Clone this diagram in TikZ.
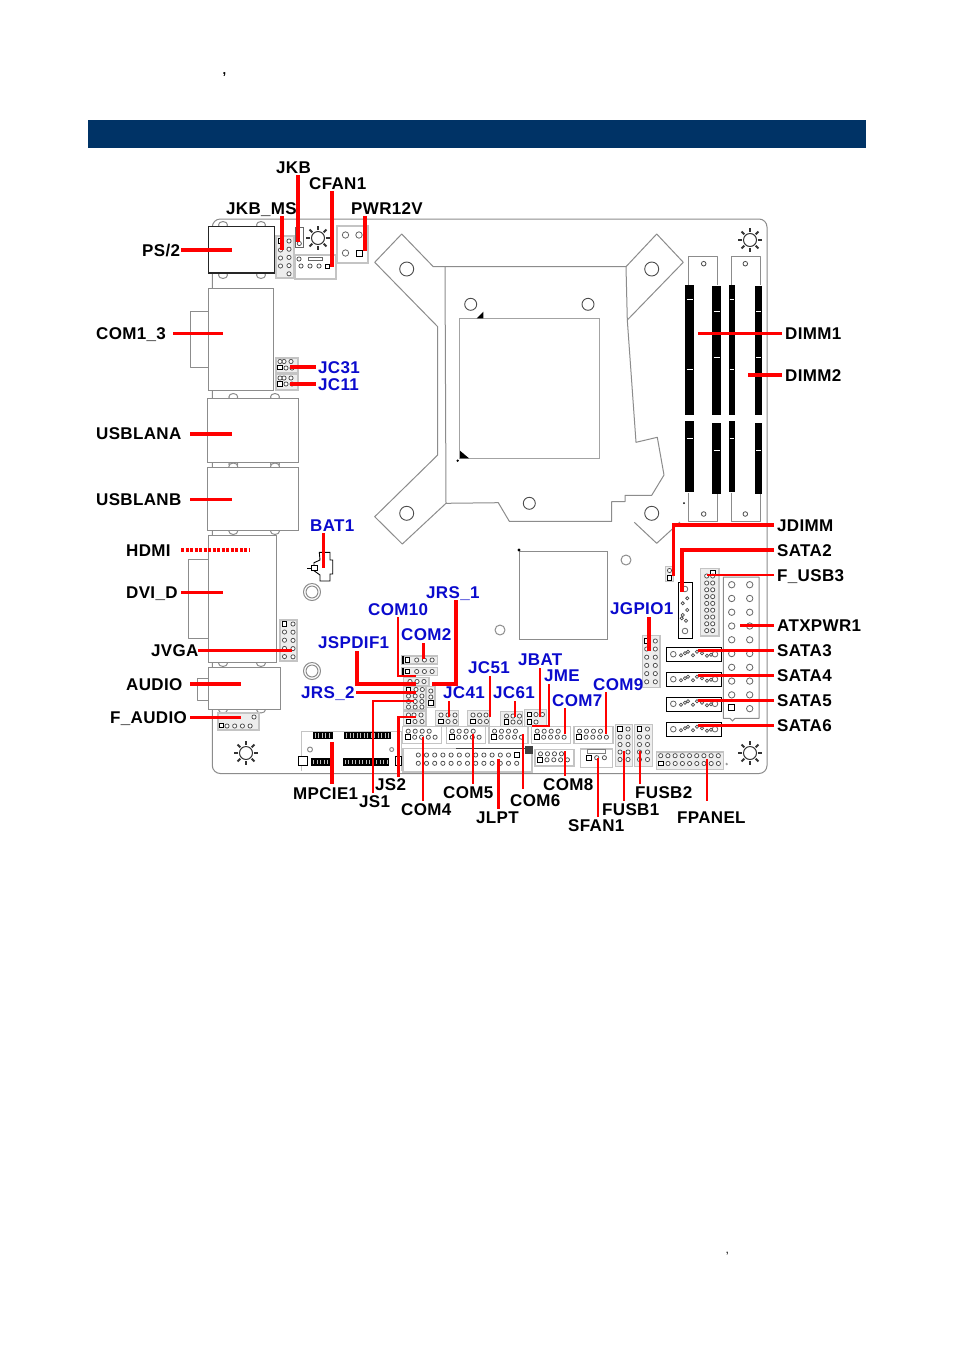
\documentclass[tikz,border=0pt]{standalone}
\usepackage{fontspec}
\setmainfont[LetterSpace=2]{Liberation Sans}
\definecolor{barblue}{HTML}{003366}
\definecolor{lblblue}{HTML}{0A0ACD}
\definecolor{leadred}{HTML}{FF0000}
\definecolor{pcb}{HTML}{8C8C8C}
\definecolor{hdrgrey}{HTML}{C4C4C4}
\definecolor{hdrfill}{HTML}{EDEDED}
\tikzset{
 lbl/.style={anchor=base west,inner sep=0pt,font=\fontsize{17}{17}\selectfont\bfseries,text=black},
 lblb/.style={lbl,text=lblblue},
 lead/.style={draw=leadred,line width=3.4pt,line cap=butt,line join=miter},
 leadthin/.style={lead,line width=2.8pt},
 outl/.style={draw=pcb,line width=1pt,line join=round},
 conn/.style={draw=pcb,line width=1pt,fill=white},
 hbox/.style={draw=hdrgrey,line width=1.3pt,fill=hdrfill},
 hboxw/.style={draw=hdrgrey,line width=1.3pt,fill=white},
 pin/.style={draw=black!70,line width=0.75pt,fill=white},
 bigpin/.style={draw=black!60,line width=0.8pt,fill=white},
 pinsq/.style={draw=black,line width=0.9pt,fill=white},
}
\newcommand\lab[4]{\node[lbl] (#1) at (#2,#3+6) {#4};}
\newcommand\labb[4]{\node[lblb] (#1) at (#2,#3+6) {#4};}
\newcommand\ld[3]{\coordinate (#1s) at (#2); \coordinate (#1e) at (#3); \draw[lead] (#1s) -- (#1e);}
\newcommand\ldt[3]{\coordinate (#1s) at (#2); \coordinate (#1e) at (#3); \draw[leadthin] (#1s) -- (#1e);}
\newcommand\ldb[4]{\coordinate (#1s) at (#2); \coordinate (#1m) at (#3); \coordinate (#1e) at (#4); \draw[lead] (#1s) -- (#1m) -- (#1e);}
\newcommand\ldbt[4]{\coordinate (#1s) at (#2); \coordinate (#1m) at (#3); \coordinate (#1e) at (#4); \draw[leadthin] (#1s) -- (#1m) -- (#1e);}
% x0,y0,dx,dy,nx,ny
\newcommand\pins[6]{\foreach \ii in {1,...,#5}{\foreach \jj in {1,...,#6}{\draw[pin] ({#1+(\ii-1)*#3},{#2+(\jj-1)*#4}) circle[radius=2.1pt];}}}
\newcommand\sqp[2]{\draw[pinsq] ({#1-2.3},{#2-2.3}) rectangle ({#1+2.3},{#2+2.3});}
\newcommand\hdr[4]{\draw[hbox] (#1,#2) rectangle (#3,#4);}
\newcommand\hdrw[4]{\draw[hboxw] (#1,#2) rectangle (#3,#4);}
\newcommand\screwstar[2]{\draw[draw=black!80,line width=1pt,fill=white] (#1,#2) circle[radius=6.5pt];
 \foreach \aa in {0,45,...,315}{\draw[black!80,line width=1.8pt] ({#1+8*cos(\aa)},{#2+8*sin(\aa)}) -- ({#1+12*cos(\aa)},{#2+12*sin(\aa)});}}
\newcommand\sata[1]{\draw[draw=black,line width=1.1pt,fill=white] (666.7,#1) rectangle (721.7,{#1+14});
 \draw[bigpin] (673.3,{#1+6.5}) circle[radius=2.8pt]; \draw[bigpin] (715,{#1+6.5}) circle[radius=2.8pt];
 \foreach \xa/\ya in {681/7.5,685/5.5,688/4,693/7.5,697/4,702/5.5,707/8,711/7}{\draw[pin] (\xa,{#1+\ya}) circle[radius=1.6pt];}}
\newcommand\dimmbar[6]{\fill[black] (#1,#3) rectangle (#2,#4); \fill[black] (#1,#5) rectangle (#2,#6);}
\newcommand\stripes[4]{\fill[black] (#1,#2) rectangle (#3,#4);
 \foreach \xs in {2.5,6,...,46}{\pgfmathparse{#1+\xs<#3-1?1:0}\ifnum\pgfmathresult=1\draw[white!75!black,line width=0.7pt] ({#1+\xs},{#2+1.5}) -- ({#1+\xs},{#4-1.5});\fi}}
\newcommand\bump[2]{\draw[outl,fill=white] (#1,#2) circle[x radius=4.5pt,y radius=3.5pt];}
\newcommand\comh[2]{\hdrw{#1}{#2}{#1+39}{#2+16.6}\pins{#1+5.5}{#2+4.5}{7}{0}{4}{1}\sqp{#1+5}{#2+10.5}\pins{#1+12}{#2+10.5}{6.8}{0}{4}{1}}
\begin{document}
\begin{tikzpicture}[x=1pt,y=-1pt]
\useasboundingbox (0,0) rectangle (954,1350);
\fill[white] (0,0) rectangle (954,1350);
\node[lbl,font=\fontsize{13}{13}\selectfont\bfseries] (cmA) at (222.5,74) {,};
\node[lbl,font=\fontsize{12}{12}\selectfont] (cmB) at (725.5,1253) {,};
\fill[barblue] (88,120) rectangle (866,148);
% board
\draw[outl,rounded corners=8pt] (212.3,219) -- (767,219) -- (767,773.5) -- (212.3,773.5) -- cycle;
% rear IO
\foreach \bx in {223,261}{\bump{\bx}{225}\bump{\bx}{275}}
\draw[draw=black!85,line width=1.2pt,fill=white] (208.5,226.5) rectangle (274.5,273);
\draw[outl,fill=white] (190,311) rectangle (208,367);
\draw[conn] (208,288) rectangle (273,390);
\foreach \bx in {233.3,275}{\bump{\bx}{397}\bump{\bx}{464}\bump{\bx}{466.5}\bump{\bx}{531}}
\draw[conn] (207.3,398.3) rectangle (298.3,462.5);
\draw[conn] (207.3,467.3) rectangle (298.3,530);
\draw[outl,fill=white] (188,559) rectangle (208,638);
\foreach \bx in {223,261}{\bump{\bx}{663}\bump{\bx}{709.5}}
\draw[conn] (208,535) rectangle (276.5,662);
\draw[outl,fill=white] (197,678) rectangle (208,700);
\draw[conn] (208,667) rectangle (280,709);
% F_AUDIO, JVGA
\hdr{218}{713}{259}{730}
\pins{227}{726}{7.7}{0}{4}{1}\pins{254}{717}{0}{0}{1}{1}\sqp{221.5}{725.5}
\hdr{280}{620}{297}{661}
\pins{293}{624}{0}{8.2}{1}{5}\pins{284.5}{632}{0}{8.2}{1}{4}\sqp{284.5}{624}
% JKB_MS, JKB
\hdr{276}{236}{294}{278}
\pins{280.5}{250}{0}{8}{1}{3}\pins{289}{241}{0}{8.2}{1}{5}\sqp{280.5}{241}
\draw[draw=black!60,line width=0.8pt,fill=white] (295.5,227) rectangle (303,247);
\pins{299.3}{243.5}{0}{0}{1}{1}
\screwstar{318}{238}
% CFAN1
\hdrw{295}{255}{336}{279}
\draw[draw=black!60,line width=0.6pt] (308,257) rectangle (322,260.5);
\pins{299}{259}{0}{0}{1}{1}
\pins{301}{266}{9}{0}{3}{1}\sqp{327.5}{266.5}
% PWR12V
\hdrw{337}{226}{368}{263}
\draw[bigpin] (345.5,235) circle[radius=3.2pt];\draw[bigpin] (359,235) circle[radius=3.2pt];
\draw[bigpin] (345.5,253) circle[radius=3.2pt];
\draw[pinsq] (356,250) rectangle (362.5,256.5);
% JC31, JC11
\hdr{276}{358}{298}{373}\hdr{276}{374.5}{298}{390}
\pins{284}{361.5}{7}{0}{2}{1}\pins{280}{361.5}{0}{0}{1}{1}\pins{286}{368}{6}{0}{2}{1}\sqp{280}{367.5}
\pins{284}{378}{7}{0}{2}{1}\pins{280}{378}{0}{0}{1}{1}\pins{286}{384}{6}{0}{2}{1}\sqp{280}{384}
% standoffs
\foreach \sy in {592,671}{\draw[outl] (312,\sy) circle[radius=8.5pt]; \draw[outl] (312,\sy) circle[radius=6pt];}
% BAT1
\draw[draw=black,line width=0.9pt,fill=white] (319.3,552.3) -- (330,552.3) -- (330,560) -- (332.7,560) -- (332.7,574) -- (330,574) -- (330,581) -- (320,581) -- (320,575) -- (314,570.7) -- (314,562.7) -- (320,560) -- cycle;
\draw[draw=black,line width=0.8pt,fill=white] (311.7,565) rectangle (317.7,570.7);
\draw[draw=black,line width=0.8pt] (307.3,568) -- (311.7,568);
% CPU retention
\draw[outl] (444.7,266.7) -- (433.3,266.7) -- (401.7,234) -- (374.7,262.3) -- (437.7,326.7) -- (437.7,455) -- (374.7,516.7) -- (402.3,544) -- (446,503.3) -- (498.3,502.7) -- (509.3,521.3) -- (611.7,521.3) -- (611.7,501.7) -- (625,501.7) -- (625,495.3) -- (651.7,495.3) -- (664,475) -- (657.3,437.3) -- (636,442.3) -- (627.3,320) -- (683.3,262.3) -- (656.7,234) -- (626,266.7) -- cycle;
\draw[outl] (445,266.7) -- (446,503.3);
\draw[outl] (626,266.7) -- (627.3,320);
\draw[outl] (634.3,522.3) -- (656.7,543.3) -- (680,522);
\draw[draw=pcb!80,line width=1.2pt] (459.3,318.3) rectangle (599.3,458.3);
\fill[black] (476.7,318.3) -- (483.3,311.7) -- (483.3,318.3) -- cycle;
\fill[black] (460,458.3) -- (460,450.7) -- (469,458.3) -- cycle;
\fill[black] (457.7,460.7) circle[radius=1.3pt];
\foreach \hx/\hy in {406.7/269,651.7/269,406.7/513.3,651.7/513.3}{\draw[draw=black!70,line width=0.9pt] (\hx,\hy) circle[radius=7pt];}
\foreach \hx/\hy in {470.7/304.3,588/304.3,529.3/503.3}{\draw[draw=black!70,line width=0.9pt] (\hx,\hy) circle[radius=6pt];}
% chipset
\draw[draw=pcb,line width=1pt] (519,551) rectangle (607,639);
\fill[black] (519,550) circle[radius=1.6pt];
\draw[outl] (500,630) circle[radius=5pt];
\draw[outl] (626,560) circle[radius=5pt];
% DIMM slots
\foreach \xa/\xb/\hx in {688.3/717.7/703.7,731.7/760.7/745.3}{
 \draw[outl] (\xa,285) -- (\xa,256.7) -- (\xb,256.7) -- (\xb,285);
 \draw[outl] (\xa,492.7) -- (\xa,521) -- (\xb,521) -- (\xb,492.7);
 \draw[draw=black!70,line width=0.8pt] (\hx,263.7) circle[radius=2.3pt];
 \draw[draw=black!70,line width=0.8pt] (\hx,514) circle[radius=2.3pt];}
\dimmbar{685.3}{694}{285}{414.7}{421.3}{492.3}
\dimmbar{712}{720.7}{285.7}{414.7}{422.7}{493.7}
\dimmbar{728.7}{735}{285}{414.7}{421.3}{492.3}
\dimmbar{755.3}{761.7}{285.7}{414.7}{422.7}{493.7}
\foreach \yy in {299.3,369.7,438.3}{\draw[white,line width=0.8pt] (686.5,\yy) -- (692.8,\yy); \draw[white,line width=0.8pt] (729.5,\yy) -- (734.2,\yy);}
\foreach \yy in {311.7,357.3,450.7}{\draw[white,line width=0.8pt] (713.5,\yy) -- (719.5,\yy); \draw[white,line width=0.8pt] (756.2,\yy) -- (760.8,\yy);}
\fill[black] (684,503) circle[radius=1pt];
% corner holes
\screwstar{750}{240}\screwstar{246}{753}\screwstar{750}{753}
% MPCIE1
\draw[draw=hdrgrey,line width=1pt] (301,771) -- (301,731) -- (401,731) -- (401,771);
\stripes{312.7}{731.7}{332.7}{739}\stripes{344}{731.7}{390.7}{739}
\stripes{311}{758.3}{330.7}{765.7}\stripes{342.7}{758.3}{389.3}{765.7}
\draw[draw=black,line width=1pt,fill=white] (298.3,756) rectangle (307,765.3);
\draw[draw=black,line width=0.8pt,fill=white] (395.7,756) rectangle (401.7,765.3);
\draw[outl] (310,749.5) circle[radius=2.5pt]; \draw[outl] (391.7,749.5) circle[radius=2pt];
% centre headers
\hdr{401.7}{656}{437.7}{664}\sqp{407.5}{660}\pins{416.7}{660}{7.7}{0}{3}{1}
\fill[black] (402,656) rectangle (403.5,664);
\hdr{401.7}{667.3}{437.7}{675.7}\sqp{407.5}{671.5}\pins{416.7}{671.5}{7.7}{0}{3}{1}
\fill[black] (402,667.5) rectangle (403.5,675.5);
\hdr{403.3}{677.7}{429}{685.3}\pins{410}{681.5}{7}{0}{3}{1}
\hdr{403.3}{686}{426}{710}\pins{416}{689.5}{6.3}{0}{2}{1}\sqp{408.5}{689.5}\pins{408.5}{696}{6.7}{5.5}{3}{3}
\hdr{426.7}{686.7}{435}{707.3}\pins{430.8}{691}{0}{6}{1}{2}\sqp{430.8}{703}
\hdr{403.3}{711}{426}{726}\pins{414}{715}{7}{0}{2}{1}\pins{408.5}{715}{0}{0}{1}{1}\sqp{408.5}{721.5}\pins{415}{721.5}{7}{0}{2}{1}
\hdr{435.7}{710.7}{458.3}{726}\pins{441}{715}{7}{0}{3}{1}\sqp{441}{721.5}\pins{448}{721.5}{7}{0}{2}{1}
\hdr{467.7}{710.7}{489.3}{726}\pins{473}{715}{6.5}{0}{3}{1}\sqp{473}{721.5}\pins{480}{721.5}{6.5}{0}{2}{1}
\hdr{500.7}{711.3}{522.7}{726.7}\pins{506.5}{716}{6.5}{0}{3}{1}\sqp{506.5}{722}\pins{513}{722}{6.5}{0}{2}{1}
\hdr{524.3}{709.3}{546.7}{726.7}\sqp{529.5}{714.5}\pins{536}{714.5}{6.5}{0}{2}{1}\sqp{529.5}{722}\pins{536}{722}{6.5}{0}{1}{1}
\comh{402.7}{726.7}\comh{446.7}{726.7}\comh{489}{726.7}\comh{531.7}{726.7}\comh{574}{726.7}
\draw[hboxw,line width=1.6pt] (402.7,748.3) rectangle (531.7,771.7);
\fill[black!75] (456,747.5) rectangle (525,749);\fill[black!75] (525,746) rectangle (533,754);
\pins{418.3}{755}{8.2}{0}{12}{1}\sqp{516.7}{755}\pins{418.3}{763.3}{8.2}{0}{13}{1}
\comh{535}{749.3}
\hdrw{580.7}{749}{612.7}{767.7}\draw[draw=black!50,line width=0.6pt] (587,749) rectangle (605,753.5);
\sqp{589}{757.7}\pins{596.7}{757.7}{7.7}{0}{2}{1}
\hdr{615.7}{724.3}{632.3}{766.7}\sqp{620}{729}\pins{628}{729}{0}{0}{1}{1}\pins{620}{737}{8}{7.5}{2}{4}
\hdr{634.3}{724.3}{652.7}{766.7}\sqp{639.5}{729}\pins{647.5}{729}{0}{0}{1}{1}\pins{639.5}{737}{8}{7.5}{2}{4}
\hdr{656.7}{752}{723.3}{769.3}\pins{660.7}{755.7}{7.2}{0}{9}{1}\sqp{660.7}{763.5}\pins{668}{763.5}{7.2}{0}{8}{1}
\fill[black!40] (726.7,764) circle[radius=1.3pt];
\hdr{642.3}{635.7}{660}{687.3}\sqp{646.7}{641}\pins{655.3}{641}{0}{0}{1}{1}\pins{646.7}{649}{8.6}{8.2}{2}{5}
% right side
\hdr{665.7}{566.7}{673.3}{581.7}\pins{669.5}{570.5}{0}{0}{1}{1}\sqp{669.5}{578}
\draw[draw=black,line width=1.1pt,fill=white] (678.3,582.3) rectangle (692.3,638.3);
\draw[bigpin] (685,589) circle[radius=2.8pt];\draw[bigpin] (685,631) circle[radius=2.8pt];
\foreach \xa/\ya in {687.3/598.3,682.7/603.3,687.3/610,682.7/615,681.7/618.3,686/620.7}{\draw[pin] (\xa,\ya) circle[radius=1.6pt];}
\hdr{700.7}{568.3}{719}{636}\sqp{712.7}{573}\pins{706.7}{576}{6}{6.8}{2}{1}\pins{706.7}{583}{6}{6.8}{2}{8}
\draw[outl] (723.3,577) -- (723.3,718.3) -- (730,718.3) -- (732.5,721) -- (735,718.3) -- (759,718.3) -- (759,577) -- cycle;
\foreach \jy in {0,...,9}{\draw[bigpin] (749.7,{584.7+\jy*13.77}) circle[radius=3.2pt];}
\foreach \jy in {0,...,8}{\draw[bigpin] (731.7,{584.7+\jy*13.77}) circle[radius=3.2pt];}
\draw[pinsq] (728.5,704.2) rectangle (734.9,710.6);
\sata{647.7}\sata{672.7}\sata{697.3}\sata{722.7}
% leaders
\ld{a1}{181,250}{232,250}
\ld{a2}{173,333.5}{223,333.5}
\ld{a3}{298,175}{298,242}
\ld{a4}{282,216}{282,250}
\ld{a5}{332,191}{332,267}
\ld{a6}{365,216}{365,251}
\ld{a7}{290,367}{316,367}
\ld{a8}{290,384}{316,384}
\ld{a9}{190,434}{232,434}
\ld{a10}{190,499.5}{232,499.5}
\coordinate (hdmis) at (181,550); \coordinate (hdmie) at (249,550);
\draw[lead,dash pattern=on 3pt off 1.5pt] (hdmis) -- (hdmie);
\ld{a11}{181,592.5}{223,592.5}
\ld{a12}{198,650.5}{292,650.5}
\ld{a13}{190,684}{241,684}
\ld{a14}{190,717.5}{241,717.5}
\ldt{a15}{323.5,533}{323.5,568}
\ld{a16}{332,742}{332,784}
\ldbt{a17}{373,793}{373,701}{414,701}
\ldbt{a18}{398.5,777}{398.5,717}{416,717}
\ldbt{a19}{398,617}{398,676}{416,676}
\ldb{a20}{357,651}{357,684}{416,684}
\ld{a21}{356,692.5}{416,692.5}
\ldt{a22}{423,737}{423,801}
\ldt{a23}{423.5,643}{423.5,659}
\ldb{a24}{456,600}{456,684}{432,684}
\ldt{a25}{449,701}{449,717}
\ldt{a26}{490,676}{490,717}
\ldt{a27}{515,701}{515,717}
\ldt{a28}{540,668}{540,717}
\ldbt{a29}{549,684}{549,726}{532,726}
\ldt{a30}{565,708}{565,734}
\ldt{a31}{606,692}{606,734}
\ldt{a32}{473,734}{473,784}
\ldt{a33}{523,734}{523,789}
\ldt{a34}{565,751}{565,776}
\ldt{a35}{498.5,759}{498.5,809}
\ldt{a36}{598,758}{598,817}
\ldt{a37}{624,751}{624,801}
\ldt{a38}{640,751}{640,784}
\ldt{a39}{707,759}{707,801}
\ld{a40}{649,617}{649,651}
\ldb{a41}{774,525}{673.5,525}{673.5,576}
\ldb{a42}{774,550}{682,550}{682,592}
\ldt{a43}{774,575}{707,575}
\ldt{a44}{774,625.5}{740,625.5}
\ldt{a45}{774,650.5}{698,650.5}
\ldt{a46}{774,675.5}{698,675.5}
\ldt{a47}{774,700.5}{698,700.5}
\ldt{a48}{774,725.5}{698,725.5}
\ld{a49}{698,333.5}{782,333.5}
\ld{a50}{748,375}{782,375}
% labels
\lab{jkb}{276}{167}{JKB}
\lab{cfan}{309}{183}{CFAN1}
\lab{jkbms}{226}{208}{JKB\_MS}
\lab{pwr}{351}{208}{PWR12V}
\lab{ps}{142}{250}{PS/2}
\lab{com13}{96}{333}{COM1\_3}
\lab{ula}{96}{433}{USBLANA}
\lab{ulb}{96}{499}{USBLANB}
\lab{hdmi}{126}{550}{HDMI}
\lab{dvi}{126}{592}{DVI\_D}
\lab{jvga}{151}{650}{JVGA}
\lab{audio}{126}{684}{AUDIO}
\lab{faudio}{110}{717}{F\_AUDIO}
\lab{mpcie}{293}{793}{MPCIE1}
\lab{js1}{359}{801}{JS1}
\lab{js2}{375}{784}{JS2}
\lab{com4}{401}{809}{COM4}
\lab{com5}{443}{792}{COM5}
\lab{jlpt}{476}{817}{JLPT}
\lab{com6}{510}{800}{COM6}
\lab{com8}{543}{784}{COM8}
\lab{sfan}{568}{825}{SFAN1}
\lab{fusb1}{602}{809}{FUSB1}
\lab{fusb2}{635}{792}{FUSB2}
\lab{fpanel}{677}{817}{FPANEL}
\lab{dimm1}{785}{333}{DIMM1}
\lab{dimm2}{785}{375}{DIMM2}
\lab{jdimm}{777}{525}{JDIMM}
\lab{sata2}{777}{550}{SATA2}
\lab{fusb3}{777}{575}{F\_USB3}
\lab{atx}{777}{625}{ATXPWR1}
\lab{sata3}{777}{650}{SATA3}
\lab{sata4}{777}{675}{SATA4}
\lab{sata5}{777}{700}{SATA5}
\lab{sata6}{777}{725}{SATA6}
\labb{jc31}{318}{367}{JC31}
\labb{jc11}{318}{384}{JC11}
\labb{bat}{310}{525}{BAT1}
\labb{jrs1}{426}{592}{JRS\_1}
\labb{com10}{368}{609}{COM10}
\labb{com2}{401}{634}{COM2}
\labb{jspdif}{318}{642}{JSPDIF1}
\labb{jrs2}{301}{692}{JRS\_2}
\labb{jc51}{468}{667}{JC51}
\labb{jc41}{443}{692}{JC41}
\labb{jc61}{493}{692}{JC61}
\labb{jbat}{518}{659}{JBAT}
\labb{jme}{544}{675}{JME}
\labb{com7}{552}{700}{COM7}
\labb{com9}{593}{684}{COM9}
\labb{jgpio}{610}{608}{JGPIO1}
\end{tikzpicture}
\end{document}
